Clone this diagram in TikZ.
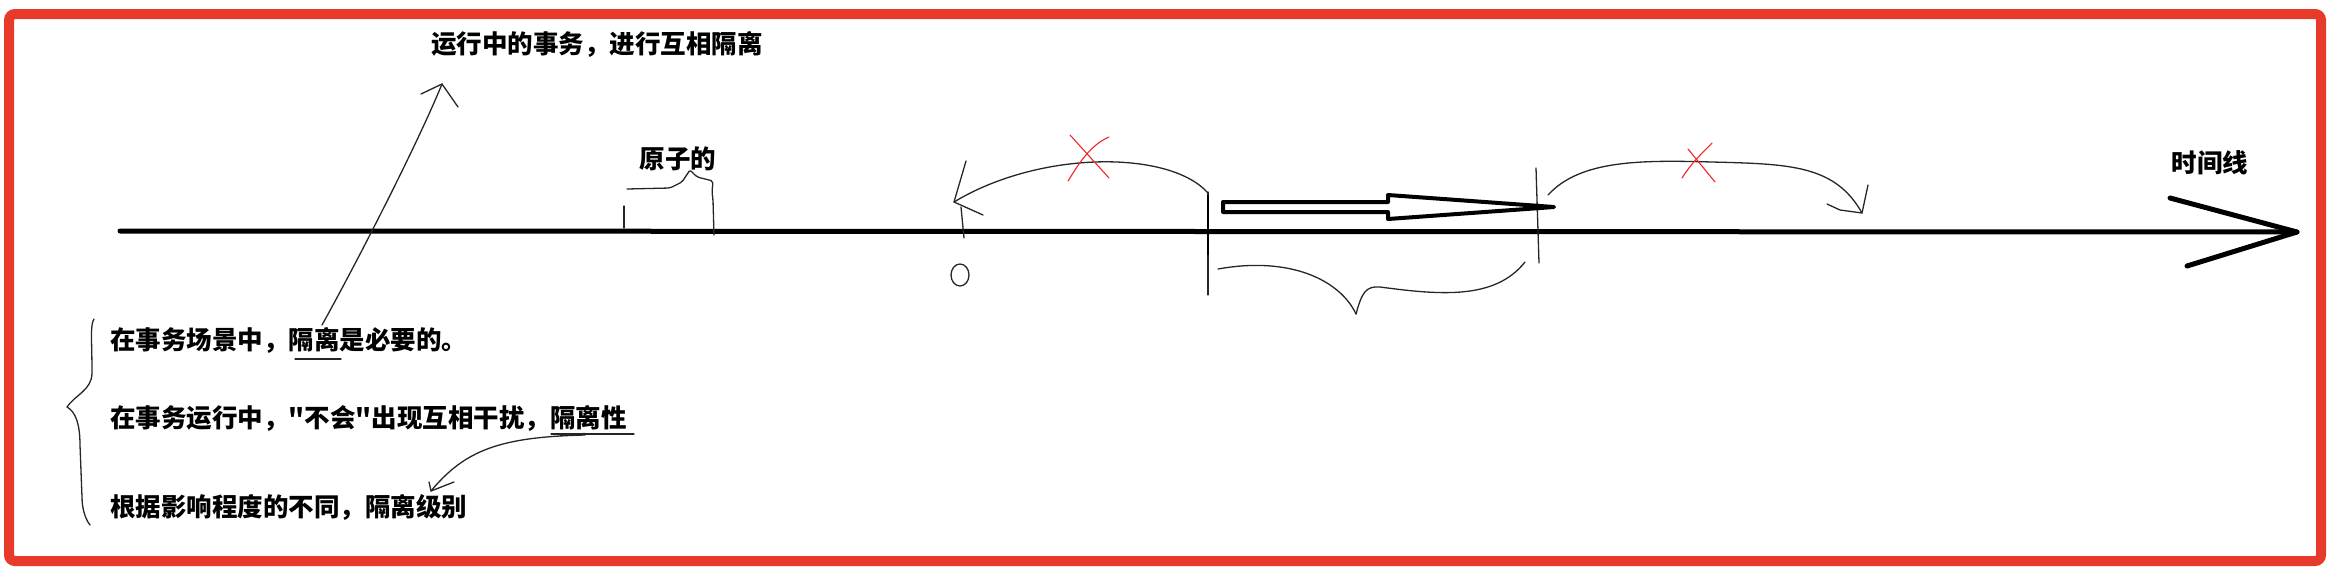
\documentclass[tikz,border=0pt]{standalone}
\usepackage{fontspec}
\newfontfamily\cjk{Noto Sans CJK SC}
\usetikzlibrary{positioning, calc}
\definecolor{framered}{HTML}{E83A2B}
\definecolor{crossred}{HTML}{F2242A}
\tikzset{
  note/.style={inner sep=0pt, font=\cjk\bfseries\fontsize{25.5pt}{30pt}\selectfont},
  axis/.style={line width=5pt, line cap=round, line join=round},
  pen/.style={line width=1.3pt, line cap=round, line join=round, draw=black!85},
  cross/.style={line width=1.1pt, draw=crossred, line cap=round},
  hollow/.style={line width=4pt, line join=round, fill=white}
}

\begin{document}
\begin{tikzpicture}[x=1pt, y=-1pt]
  \useasboundingbox (0,0) rectangle (2331,571);
  \draw[framered, line width=10pt, rounded corners=6pt] (9,14) rectangle (2321,561);

  % time axis
  \coordinate (t0) at (120,231);
  \coordinate (t1) at (2297,232);
  \draw[axis] (t0) -- (t1);
  \draw[axis] (2170,198) -- (t1) -- (2187,266);

  % texts
  \node[note] (run) at (597,44) {运行中的事务，进行互相隔离};
  \node[note] (atom) at (678,159) {原子的};
  \node[note] (time) at (2210,163) {时间线};
  \node[note, anchor=west] (l1) at (110,340) {在事务场景中，隔离是必要的。};
  \node[note, anchor=west] (l2) at (110,418) {在事务运行中，"不会"出现互相干扰，隔离性};
  \node[note, anchor=west] (l3) at (110,507) {根据影响程度的不同，隔离级别};

  % underlines and the two hand arrows on the left
  \coordinate (u1) at (322,325);
  \coordinate (r1) at (442,84);
  \coordinate (u2) at (585,435);
  \coordinate (g3) at (431,491);
  \draw[pen] (295,359) -- (341,359);
  \draw[pen] (551,434) -- (634,434);
  \draw[line width=2.2pt, black!85] (560,435) -- (585,434);
  \draw[pen] (u1) .. controls (350,275) and (415,150) .. (r1);
  \draw[pen] (421,94) -- (r1) -- (458,107);
  \draw[pen] (u2) .. controls (500,437) and (465,450) .. (g3);
  \draw[pen] (429,482) -- (g3) -- (454,482);

  % brace in front of the three lines
  \draw[pen] (94,319) .. controls (90,325) and (92,340) .. (92,373)
    .. controls (92,390) and (75,395) .. (67,407)
    .. controls (76,412) and (80,425) .. (80,445) -- (82,497)
    .. controls (82,510) and (86,520) .. (90,525);

  % atomic bracket
  \draw[pen] (624,206) -- (624,228);
  \draw[pen, rounded corners=2pt] (627,189) -- (670,188) -- (682,182) -- (690,170)
    -- (697,177) -- (713,181) -- (712,192) -- (713,200) -- (714,235);

  % left jump, crossed out
  \coordinate (a0) at (1208,193);
  \coordinate (a1) at (954,202);
  \draw[pen] (a0) .. controls (1170,150) and (1040,150) .. (a1);
  \draw[pen] (966,161) -- (a1) -- (983,215);
  \draw[pen] (961,207) -- (964,238);
  \draw[pen] (960,275) ellipse [x radius=9pt, y radius=11pt];
  \draw[cross] (1070,135) -- (1109,178);
  \draw[cross] (1109,137) .. controls (1090,145) and (1078,165) .. (1068,181);

  % running transaction
  \draw[pen] (1208,192) -- (1208,295);
  \draw[line width=2.6pt, black] (1208,195) -- (1208,255);
  \draw[pen] (1536,168) -- (1539,263);
  \draw[hollow] (1223,202) -- (1388,202) -- (1388,195) -- (1554,207)
    -- (1388,219) -- (1388,212) -- (1223,212) -- cycle;
  \draw[pen] (1218,269) .. controls (1290,256) and (1340,280) .. (1356,314);
  \draw[pen] (1356,314) .. controls (1362,292) and (1366,286) .. (1380,287)
    .. controls (1440,295) and (1495,300) .. (1525,262);

  % right jump, crossed out
  \coordinate (b0) at (1548,195);
  \coordinate (b1) at (1862,213);
  \draw[pen] (b0) .. controls (1580,160) and (1640,160) .. (1712,162)
    .. controls (1790,164) and (1835,165) .. (b1);
  \draw[pen] (1868,185) -- (b1) -- (1840,210) -- (1827,204);
  \draw[cross] (1688,149) -- (1715,182);
  \draw[cross] (1712,143) .. controls (1700,155) and (1690,165) .. (1682,178);
\end{tikzpicture}
\end{document}
